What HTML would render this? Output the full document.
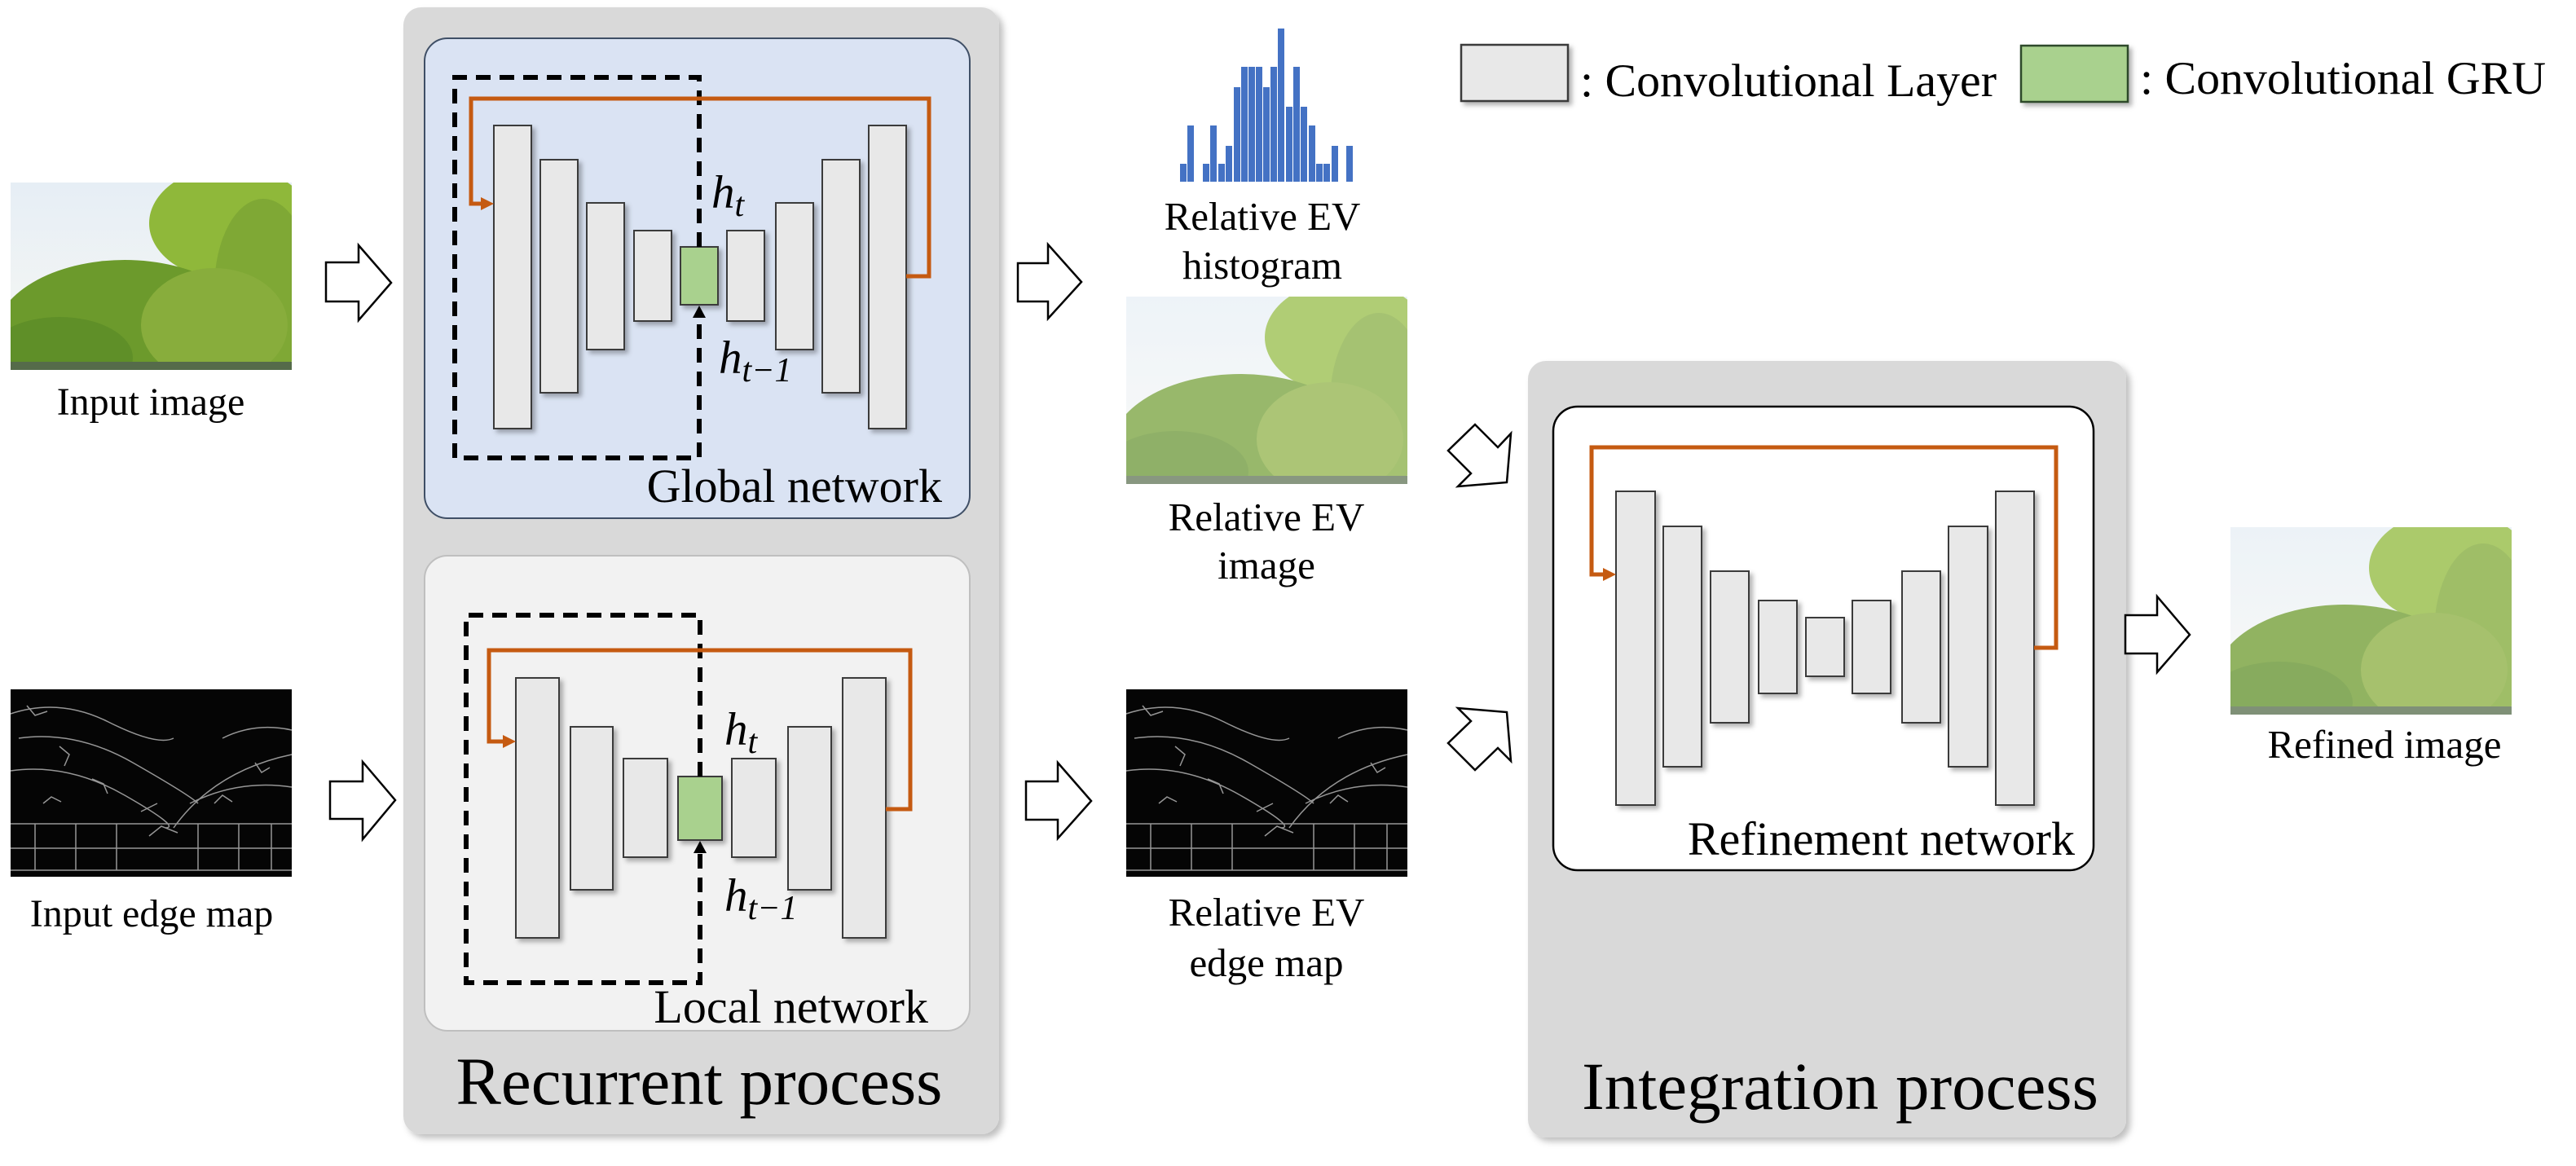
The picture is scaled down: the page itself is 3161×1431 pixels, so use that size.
<!DOCTYPE html>
<html><head><meta charset="utf-8"><style>
html,body{margin:0;padding:0;background:#fff}
svg{display:block}
text{font-family:"Liberation Serif",serif;fill:#000}
</style></head><body>
<svg width="3161" height="1431" viewBox="0 0 3161 1431" xmlns="http://www.w3.org/2000/svg">
<defs>
<filter id="sh" x="-10%" y="-10%" width="130%" height="130%"><feDropShadow dx="4" dy="4" stdDeviation="3" flood-color="#000" flood-opacity="0.3"/></filter>
<filter id="psh" x="-5%" y="-5%" width="110%" height="110%"><feDropShadow dx="5" dy="5" stdDeviation="4" flood-color="#000" flood-opacity="0.25"/></filter>
<linearGradient id="sky" x1="0" y1="0" x2="0" y2="1"><stop offset="0" stop-color="#e6eef5"/><stop offset="1" stop-color="#f8f8f4"/></linearGradient>
<clipPath id="tc"><rect x="0" y="0" width="345" height="230"/></clipPath>
<g id="tree">
<g clip-path="url(#tc)">
<rect x="0" y="0" width="345" height="230" fill="url(#sky)"/>
<ellipse cx="270" cy="50" rx="100" ry="70" fill="#8fb83a"/>
<ellipse cx="310" cy="130" rx="60" ry="110" fill="#7fa835"/>
<ellipse cx="140" cy="190" rx="160" ry="95" fill="#6c9a2c"/>
<ellipse cx="250" cy="175" rx="90" ry="70" fill="#88ad3c"/>
<ellipse cx="60" cy="215" rx="90" ry="50" fill="#5f8f28"/>
<rect x="0" y="220" width="345" height="10" fill="#556b4a"/>
</g>
</g>
<g id="edge">
<rect x="0" y="0" width="345" height="230" fill="#050505"/>
<g stroke="#bbb" stroke-width="1.5" fill="none" opacity="0.8">
<path d="M0 30 Q60 10 120 40 T200 60 M10 60 Q80 50 150 90 T230 140 M0 100 Q70 90 140 130 T190 170 M200 170 Q250 100 345 80 M220 140 Q280 110 345 120 M260 60 Q300 40 345 50"/>
<path d="M0 165 H345 M0 195 H345 M0 222 H345 M30 165 V222 M80 165 V222 M130 165 V222 M230 165 V222 M280 165 V222 M320 165 V222"/>
<path d="M20 20 l10 12 l15 -5 M60 70 l12 10 l-6 14 M100 110 l14 6 l5 12 M40 140 l10 -8 l12 6 M250 140 l10 -10 l12 8 M300 90 l8 12 l10 -6 M160 150 l20 -10 M170 180 l15 -12 l20 8"/>
</g>
</g>
</defs>

<!-- left inputs -->
<use href="#tree" x="13" y="224"/>
<text x="185" y="509" font-size="48" text-anchor="middle">Input image</text>
<use href="#edge" x="13" y="846"/>
<text x="186" y="1137" font-size="48" text-anchor="middle">Input edge map</text>
<g fill="#fff" stroke="#000" stroke-width="2.5">
<polygon points="400,322 440,322 440,301 480,347 440,393 440,370 400,370"/>
<polygon points="405,959 445,959 445,935 485,982 445,1030 445,1005 405,1005"/>
</g>

<!-- recurrent panel -->
<rect x="495" y="9" width="731" height="1383" rx="22" fill="#d9d9d9" filter="url(#psh)"/>
<rect x="521" y="47" width="669" height="589" rx="28" fill="#dae3f3" stroke="#3f4f66" stroke-width="2"/>
<rect x="521" y="682" width="669" height="583" rx="28" fill="#f2f2f2" stroke="#bfbfbf" stroke-width="2"/>

<g fill="#e8e8e8" stroke="#3a3a3a" stroke-width="2" filter="url(#sh)">
<rect x="606" y="154" width="46" height="372"/>
<rect x="663" y="196" width="46" height="286"/>
<rect x="720" y="249" width="46" height="180"/>
<rect x="778" y="283" width="46" height="111"/>
<rect x="892" y="283" width="46" height="111"/>
<rect x="952" y="249" width="46" height="180"/>
<rect x="1009" y="196" width="46" height="286"/>
<rect x="1066" y="154" width="46" height="372"/>
<rect x="835" y="303" width="46" height="71" fill="#a9d18e"/>
</g>
<path d="M858,303 L858,95 L558,95 L558,562 L858,562 L858,386" fill="none" stroke="#000" stroke-width="6" stroke-dasharray="18,11"/>
<polygon points="858,375 850,390 866,390" fill="#000"/>
<path d="M1112,339 L1140,339 L1140,121 L578,121 L578,250 L592,250" fill="none" stroke="#c55a11" stroke-width="5"/>
<polygon points="606,250 590,242 590,258" fill="#c55a11"/>
<text x="873" y="255" font-size="57" font-style="italic">h<tspan font-size="42" dy="10">t</tspan></text>
<text x="882" y="458" font-size="57" font-style="italic">h<tspan font-size="42" dy="10">t−1</tspan></text>
<text x="1156" y="616" font-size="58" text-anchor="end">Global network</text>

<g fill="#e8e8e8" stroke="#3a3a3a" stroke-width="2" filter="url(#sh)">
<rect x="633" y="832" width="53" height="319"/>
<rect x="700" y="892" width="52" height="200"/>
<rect x="765" y="931" width="54" height="121"/>
<rect x="898" y="931" width="54" height="121"/>
<rect x="967" y="892" width="53" height="200"/>
<rect x="1034" y="832" width="53" height="319"/>
<rect x="832" y="953" width="54" height="78" fill="#a9d18e"/>
</g>
<path d="M859,953 L859,755 L572,755 L572,1206 L859,1206 L859,1043" fill="none" stroke="#000" stroke-width="6" stroke-dasharray="18,11"/>
<polygon points="859,1032 851,1047 867,1047" fill="#000"/>
<path d="M1087,993 L1117,993 L1117,798 L600,798 L600,910 L618,910" fill="none" stroke="#c55a11" stroke-width="5"/>
<polygon points="633,910 617,902 617,918" fill="#c55a11"/>
<text x="889" y="914" font-size="57" font-style="italic">h<tspan font-size="42" dy="10">t</tspan></text>
<text x="889" y="1118" font-size="57" font-style="italic">h<tspan font-size="42" dy="10">t−1</tspan></text>
<text x="1139" y="1255" font-size="58" text-anchor="end">Local network</text>
<text x="858" y="1355" font-size="83" text-anchor="middle">Recurrent process</text>

<!-- middle column -->
<g fill="#fff" stroke="#000" stroke-width="2.5">
<polygon points="1249,323 1286,323 1286,300 1327,346 1286,391 1286,370 1249,370"/>
<polygon points="1259,959 1298,959 1298,936 1339,983 1298,1029 1298,1006 1259,1006"/>
<polygon points="1777,553 1810,521 1838,549 1854,532 1849,592 1789,597 1805,581"/>
<polygon points="1777,912 1810,945 1838,918 1854,934 1849,874 1789,869 1805,885"/>
</g>
<g fill="#4472c4">
<rect x="1448" y="201" width="8" height="22"/>
<rect x="1457" y="154" width="8" height="69"/>
<rect x="1476" y="201" width="8" height="22"/>
<rect x="1485" y="154" width="8" height="69"/>
<rect x="1495" y="201" width="8" height="22"/>
<rect x="1504" y="179" width="8" height="44"/>
<rect x="1514" y="107" width="8" height="116"/>
<rect x="1523" y="82" width="8" height="141"/>
<rect x="1532" y="82" width="8" height="141"/>
<rect x="1541" y="82" width="8" height="141"/>
<rect x="1550" y="107" width="8" height="116"/>
<rect x="1559" y="82" width="8" height="141"/>
<rect x="1568" y="35" width="8" height="188"/>
<rect x="1578" y="131" width="8" height="92"/>
<rect x="1587" y="82" width="8" height="141"/>
<rect x="1596" y="131" width="8" height="92"/>
<rect x="1606" y="154" width="8" height="69"/>
<rect x="1615" y="201" width="8" height="22"/>
<rect x="1624" y="201" width="8" height="22"/>
<rect x="1634" y="179" width="8" height="44"/>
<rect x="1652" y="179" width="8" height="44"/>
</g>
<text x="1549" y="282" font-size="49" text-anchor="middle">Relative EV</text>
<text x="1549" y="342" font-size="49" text-anchor="middle">histogram</text>
<use href="#tree" x="1382" y="364"/>
<rect x="1382" y="364" width="345" height="232" fill="#fff" opacity="0.3"/>
<text x="1554" y="651" font-size="49" text-anchor="middle">Relative EV</text>
<text x="1554" y="710" font-size="49" text-anchor="middle">image</text>
<use href="#edge" x="1382" y="846"/>
<text x="1554" y="1136" font-size="49" text-anchor="middle">Relative EV</text>
<text x="1554" y="1198" font-size="49" text-anchor="middle">edge map</text>

<!-- legend -->
<rect x="1793" y="55" width="131" height="69" fill="#e8e8e8" stroke="#3a3a3a" stroke-width="2.5" filter="url(#sh)"/>
<text x="1939" y="118" font-size="57" textLength="511" lengthAdjust="spacingAndGlyphs">: Convolutional Layer</text>
<rect x="2480" y="56" width="131" height="69" fill="#a9d18e" stroke="#2f4a2a" stroke-width="2.5" filter="url(#sh)"/>
<text x="2626" y="115" font-size="57" textLength="498" lengthAdjust="spacingAndGlyphs">: Convolutional GRU</text>

<!-- integration panel -->
<rect x="1875" y="443" width="734" height="953" rx="22" fill="#d9d9d9" filter="url(#psh)"/>
<rect x="1906" y="499" width="663" height="569" rx="30" fill="#fff" stroke="#000" stroke-width="2.5"/>
<g fill="#e8e8e8" stroke="#3a3a3a" stroke-width="2" filter="url(#sh)">
<rect x="1983" y="603" width="48" height="385"/>
<rect x="2041" y="646" width="47" height="295"/>
<rect x="2099" y="701" width="47" height="186"/>
<rect x="2158" y="737" width="47" height="114"/>
<rect x="2216" y="758" width="47" height="72"/>
<rect x="2273" y="737" width="47" height="114"/>
<rect x="2334" y="701" width="47" height="186"/>
<rect x="2391" y="646" width="48" height="295"/>
<rect x="2449" y="603" width="47" height="385"/>
</g>
<path d="M2496,795 L2523,795 L2523,549 L1953,549 L1953,705 L1969,705" fill="none" stroke="#c55a11" stroke-width="5"/>
<polygon points="1983,705 1967,697 1967,713" fill="#c55a11"/>
<text x="2546" y="1049" font-size="58" text-anchor="end">Refinement network</text>
<text x="2258" y="1361" font-size="83" text-anchor="middle">Integration process</text>

<!-- output -->
<polygon points="2608,755 2647,755 2647,732 2687,779 2647,825 2647,802 2608,802" fill="#fff" stroke="#000" stroke-width="2.5"/>
<use href="#tree" x="2737" y="647"/>
<rect x="2737" y="647" width="345" height="230" fill="#fff" opacity="0.25"/>
<text x="2926" y="930" font-size="49" text-anchor="middle">Refined image</text>
</svg>
</body></html>
